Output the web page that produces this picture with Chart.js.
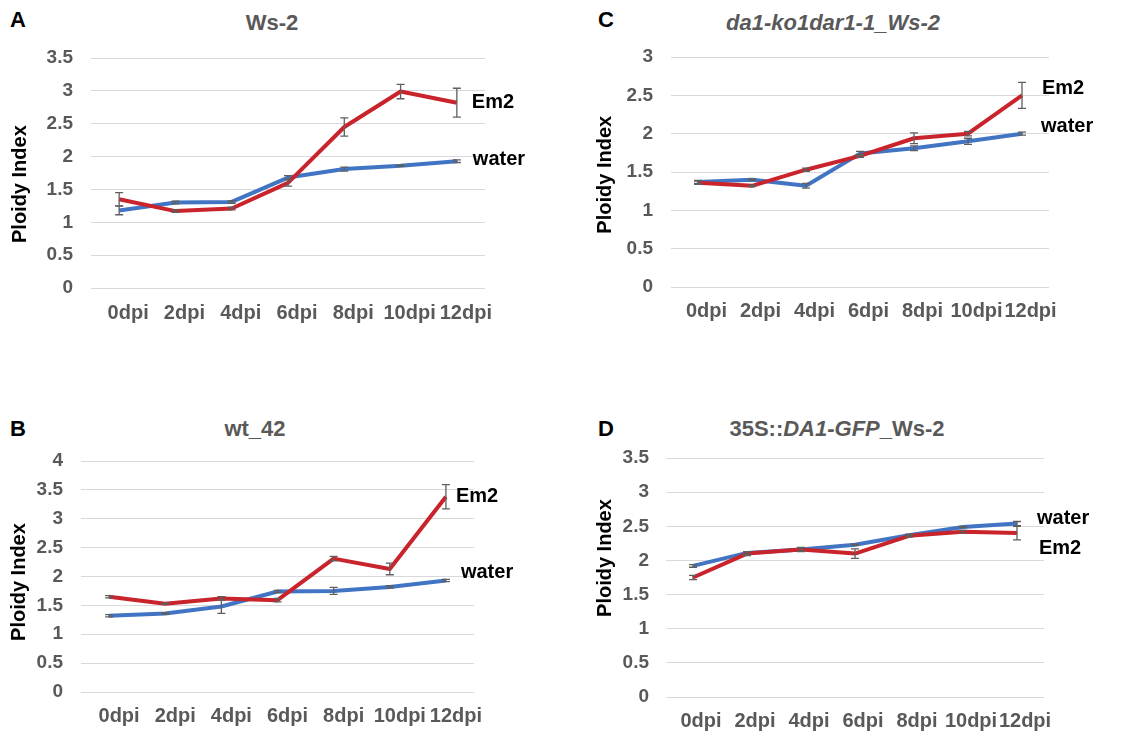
<!DOCTYPE html>
<html><head><meta charset="utf-8">
<script src="https://cdn.jsdelivr.net/npm/chart.js@4.4.1/dist/chart.umd.min.js"></script>
<style>
body{margin:0;background:#fff;width:1140px;height:734px;position:relative;overflow:hidden;font-family:Arial,'Liberation Sans',sans-serif;}
canvas{position:absolute;}
.lbl{position:absolute;font-weight:bold;font-size:22px;line-height:22px;white-space:nowrap;}
.letter{color:#000;}
.ttl{color:#595959;transform:translateX(-50%);}
</style></head><body>
<div class="lbl letter" style="left:10px;top:9px">A</div>
<div class="lbl letter" style="left:598px;top:9px">C</div>
<div class="lbl letter" style="left:10px;top:418px">B</div>
<div class="lbl letter" style="left:598px;top:418px">D</div>
<div class="lbl ttl" style="left:272px;top:12px">Ws-2</div>
<div class="lbl ttl" style="left:833px;top:12px"><i>da1-ko1dar1-1_Ws-2</i></div>
<div class="lbl ttl" style="left:255px;top:418px">wt_42</div>
<div class="lbl ttl" style="left:837px;top:418px">35S::<i>DA1-GFP</i>_Ws-2</div>
<canvas id="cA" width="570" height="367" style="left:0;top:0"></canvas>
<canvas id="cC" width="570" height="367" style="left:570px;top:0"></canvas>
<canvas id="cB" width="570" height="367" style="left:0;top:367px"></canvas>
<canvas id="cD" width="570" height="367" style="left:570px;top:367px"></canvas>
<script>
const categories = ['0dpi','2dpi','4dpi','6dpi','8dpi','10dpi','12dpi'];

// Panel A: Ws-2
const wsWater    = [1.18, 1.30, 1.31, 1.68, 1.81, 1.86, 1.93];
const wsWaterErr = [0.065, 0.02, 0.02, 0.03, 0.03, 0.01, 0.02];
const wsEm2      = [1.35, 1.17, 1.21, 1.60, 2.45, 2.99, 2.82];
const wsEm2Err   = [0.10, 0.02, 0.02, 0.05, 0.14, 0.11, 0.22];

// Panel B: wt_42
const wtWater    = [1.32, 1.36, 1.48, 1.74, 1.75, 1.82, 1.93];
const wtWaterErr = [0.02, 0.01, 0.12, 0.02, 0.06, 0.02, 0.02];
const wtEm2      = [1.65, 1.53, 1.62, 1.59, 2.31, 2.13, 3.38];
const wtEm2Err   = [0.02, 0.01, 0.03, 0.03, 0.04, 0.10, 0.21];

// Panel C: da1-ko1dar1-1_Ws-2
const daWater    = [1.37, 1.40, 1.32, 1.74, 1.81, 1.90, 2.00];
const daWaterErr = [0.02, 0.01, 0.03, 0.03, 0.03, 0.04, 0.02];
const daEm2      = [1.36, 1.32, 1.53, 1.71, 1.94, 2.00, 2.50];
const daEm2Err   = [0.02, 0.01, 0.02, 0.02, 0.07, 0.03, 0.17];

// Panel D: 35S::DA1-GFP_Ws-2
const gfpWater    = [1.92, 2.11, 2.16, 2.23, 2.37, 2.49, 2.54];
const gfpWaterErr = [0.02, 0.02, 0.02, 0.01, 0.01, 0.01, 0.03];
const gfpEm2      = [1.75, 2.10, 2.16, 2.10, 2.36, 2.42, 2.40];
const gfpEm2Err   = [0.03, 0.03, 0.03, 0.07, 0.02, 0.02, 0.10];

const yMaxA = 3.5, yMaxB = 4, yMaxC = 3, yMaxD = 3.5;

Chart.defaults.font.family = "Arial, 'Liberation Sans', sans-serif";

const RED = '#C9232B', BLUE = '#4175C4', ERR = '#5f5f5f';

const errorBars = {
  id: 'errorBars',
  afterDatasetsDraw(chart) {
    const ctx = chart.ctx, ys = chart.scales.y;
    ctx.save();
    ctx.strokeStyle = ERR; ctx.lineWidth = 1.3;
    chart.data.datasets.forEach((ds, i) => {
      const meta = chart.getDatasetMeta(i);
      ds.errors.forEach((e, j) => {
        const x = meta.data[j].x, v = ds.data[j];
        const yt = ys.getPixelForValue(v + e), yb = ys.getPixelForValue(v - e);
        ctx.beginPath();
        ctx.moveTo(x, yt); ctx.lineTo(x, yb);
        ctx.moveTo(x - 4, yt); ctx.lineTo(x + 4, yt);
        ctx.moveTo(x - 4, yb); ctx.lineTo(x + 4, yb);
        ctx.stroke();
      });
    });
    ctx.restore();
  }
};

const endLabels = {
  id: 'endLabels',
  afterDatasetsDraw(chart, args, opts) {
    const ctx = chart.ctx;
    ctx.save();
    ctx.font = "bold 20px Arial, 'Liberation Sans', sans-serif";
    ctx.fillStyle = '#000'; ctx.textAlign = 'left'; ctx.textBaseline = 'middle';
    chart.data.datasets.forEach((ds, i) => {
      const meta = chart.getDatasetMeta(i);
      const pt = meta.data[meta.data.length - 1];
      const off = opts.offsets[i];
      ctx.fillText(ds.label, pt.x + off[0], pt.y + off[1]);
    });
    ctx.restore();
  }
};

const W = 570, H = 367;
function makeChart(id, water, waterErr, em2, em2Err, yMax, area, yTickPad, titlePad, xTickPad, labelOffset, yTitle, offsets) {
  new Chart(document.getElementById(id), {
    type: 'line',
    data: {
      labels: categories,
      datasets: [
        {label: 'Em2', data: em2, errors: em2Err, borderColor: RED, borderWidth: 4, pointRadius: 0, tension: 0, borderJoinStyle: 'round', fill: false},
        {label: 'water', data: water, errors: waterErr, borderColor: BLUE, borderWidth: 4, pointRadius: 0, tension: 0, borderJoinStyle: 'round', fill: false}
      ]
    },
    options: {
      responsive: false, animation: false, devicePixelRatio: 1,
      layout: {padding: {left: 0, top: area.t, right: W - area.r, bottom: 0}},
      plugins: {legend: {display: false}, tooltip: {enabled: false}, title: {display: false}, endLabels: {offsets: offsets}},
      scales: {
        x: {
          offset: true,
          grid: {display: false, drawTicks: false},
          border: {display: false},
          ticks: {color: '#595959', font: {size: 20, weight: 'bold'}, padding: xTickPad, labelOffset: labelOffset, autoSkip: false, maxRotation: 0, minRotation: 0},
          afterFit(s) { s.height = H - area.b; }
        },
        y: {
          min: 0, max: yMax,
          ticks: {stepSize: 0.5, color: '#595959', font: {size: 19, weight: 'bold'}, padding: yTickPad, callback: v => String(v)},
          grid: {color: '#d9d9d9', lineWidth: 1, drawTicks: false},
          border: {display: false},
          title: {display: true, text: yTitle, color: '#000', font: {size: 20, weight: 'bold'}, padding: {top: titlePad, bottom: 0}},
          afterFit(s) { s.width = area.l; }
        }
      }
    },
    plugins: [errorBars, endLabels]
  });
}

makeChart('cA', wsWater, wsWaterErr, wsEm2, wsEm2Err, yMaxA, {l: 91, r: 485, t: 58, b: 288}, 18, 8, 13, 9, 'Ploidy Index    ', [[15, 0], [16, -2]]);
makeChart('cC', daWater, daWaterErr, daEm2, daEm2Err, yMaxC, {l: 101, r: 479, t: 57, b: 287}, 18, 23, 12, 8.5, 'Ploidy Index ', [[20, -7], [19, -7]]);
makeChart('cB', wtWater, wtWaterErr, wtEm2, wtEm2Err, yMaxB, {l: 81, r: 474, t: 94, b: 325}, 18, 7, 12, 10, 'Ploidy Index  ', [[10, 0], [15, -8]]);
makeChart('cD', gfpWater, gfpWaterErr, gfpEm2, gfpEm2Err, yMaxD, {l: 96, r: 474, t: 91, b: 330}, 17, 23, 12, 8, '       Ploidy Index', [[22, 15], [20, -5]]);
</script>
</body></html>
